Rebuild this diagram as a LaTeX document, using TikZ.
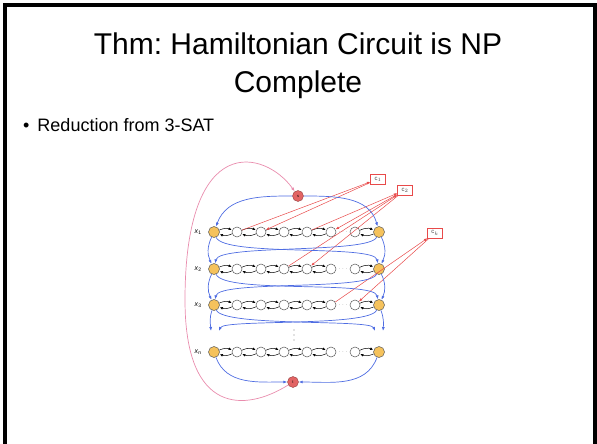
\documentclass[tikz,border=0pt]{standalone}
\usepackage{fontspec}
\setmainfont{Liberation Sans}
\usepackage{tikz}
\usetikzlibrary{arrows.meta,positioning}
\definecolor{endyellow}{HTML}{F5C25C}
\definecolor{stred}{HTML}{E26464}
\definecolor{cred}{HTML}{E84A4A}
\definecolor{bblue}{HTML}{4F6DE2}
\definecolor{ppink}{HTML}{E98CAD}
\frenchspacing
\begin{document}
\begin{tikzpicture}[x=1pt, y=1pt,
  vnode/.style={circle, draw=gray!70!black, fill=white, minimum size=10pt, inner sep=0pt, line width=0.5pt},
  endnode/.style={vnode, fill=endyellow, minimum size=11pt},
  stnode/.style={circle, draw=stred!65!black, fill=stred, minimum size=11pt, inner sep=0pt, font=\fontsize{4}{4}\selectfont},
  clause/.style={draw=cred, fill=white, minimum width=15pt, minimum height=10pt, inner sep=0pt, font=\fontsize{6}{6}\selectfont, text=gray!60!black},
  chain/.style={-{Latex[length=3pt,width=2.8pt]}, black, line width=0.5pt, shorten >=0.5pt},
  redge/.style={-{Latex[length=3.5pt,width=2.6pt]}, draw=cred, line width=0.5pt},
  bedge/.style={-{Latex[length=4pt,width=3pt]}, draw=bblue, line width=0.7pt},
  pedge/.style={-{Latex[length=4pt,width=3pt]}, draw=ppink, line width=0.7pt},
  vlabel/.style={font=\fontsize{7}{7}\selectfont}
]
\useasboundingbox (0,0) rectangle (597,-444);
\draw[line width=4pt] (5,-444) -- (5,-5.5) -- (595,-5.5) -- (595,-444);
\node[font=\fontsize{30}{38}\selectfont, align=center] (title) at (298,-66) {Thm: Hamiltonian Circuit is NP\\Complete};
\node[anchor=base west, inner sep=0pt, font=\fontsize{18}{22}\selectfont] (bullet) at (23,-131.5) {\textbullet\hspace{8pt}Reduction from 3-SAT};
% variable rows
\foreach \r/\y in {1/-232,2/-269,3/-305,n/-352} {
  \node[endnode] (v\r-0) at (214,\y) {};
  \foreach \k/\x in {1/237,2/261,3/284,4/307,5/331,6/355}
    \node[vnode] (v\r-\k) at (\x,\y) {};
  \node[endnode] (v\r-7) at (379,\y) {};
  \node[font=\fontsize{6}{6}\selectfont, text=gray, inner sep=0pt] (dots\r) at (343,\y) {$\cdots$};
  \node[vlabel, left=3pt of v\r-0] (x\r) {\textit{x}\textsubscript{\r}};
  \foreach \a/\b in {0/1,1/2,2/3,3/4,4/5,6/7} {
    \draw[chain] (v\r-\a.20) to[bend left=25] (v\r-\b.160);
    \draw[chain] (v\r-\b.-160) to[bend left=25] (v\r-\a.-20);
  }
}
\foreach \d in {330,335,340}
  \fill[gray] (294,-\d) circle (0.7pt);
\node[stnode] (s) at (298,-196) {s};
\node[stnode] (t) at (293,-382) {t};
\node[clause] (c1) at (378,-179) {c$_1$};
\node[clause] (c2) at (405,-190) {c$_2$};
\node[clause] (ck) at (435,-233) {c$_k$};
% clause links
\draw[redge] (v1-1) -- (c1);
\draw[redge] (c1) -- (v1-2);
\draw[redge] (v1-4) -- (c2);
\draw[redge] (c2) -- (v1-5);
\draw[redge] (v2-3) -- (c2);
\draw[redge] (c2) -- (v2-4);
\draw[redge] (v3-5) -- (ck);
\draw[redge] (ck) -- (v3-6);
% paths between rows
\draw[bedge] (s) to[out=180,in=70] (v1-0);
\draw[bedge] (s) to[out=0,in=105] (v1-7);
\foreach \r/\s in {1/2,2/3} {
  \draw[bedge] (v\r-0) to[out=-115,in=115] (v\s-0);
  \draw[bedge] (v\r-7) to[out=-65,in=65] (v\s-7);
  \draw[bedge] (v\r-0) .. controls +(10,-25) and +(-5,25) .. (v\s-7);
  \draw[bedge] (v\r-7) .. controls +(-10,-22) and +(5,25) .. (v\s-0);
}
\coordinate (dl-a) at (211,-331);
\coordinate (dl-b) at (219,-331);
\coordinate (dr-a) at (375,-331);
\coordinate (dr-b) at (383,-331);
\draw[bedge] (v3-0) to[out=-110,in=95] (dl-a);
\draw[bedge] (v3-7) .. controls +(-10,-22) and +(5,12) .. (dl-b);
\draw[bedge] (v3-0) .. controls +(10,-22) and +(-5,12) .. (dr-a);
\draw[bedge] (v3-7) to[out=-70,in=85] (dr-b);
\draw[bedge] (vn-0) to[out=-70,in=180] (t);
\draw[bedge] (vn-7) to[out=-110,in=0] (t);
% return edge
\coordinate (back) at (185,-300);
\draw[pedge] (t) .. controls (245,-412) and (185,-415) .. (back) .. controls (185,-130) and (265,-150) .. (s);
\end{tikzpicture}
\end{document}
